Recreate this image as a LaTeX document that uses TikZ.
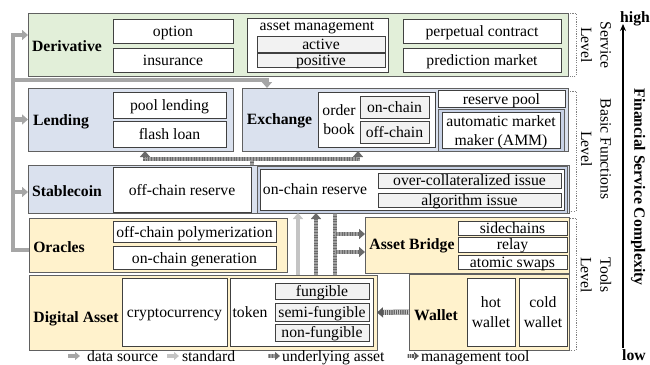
\documentclass[tikz,border=0pt]{standalone}
\usepackage{fontspec}
\setmainfont{Liberation Serif}
\usetikzlibrary{arrows.meta}
\definecolor{cgreen}{HTML}{E2EFD9}
\definecolor{cblue}{HTML}{DAE1EE}
\definecolor{cring}{HTML}{C8D2E6}
\definecolor{cyellow}{HTML}{FFF2CC}
\definecolor{gfill}{HTML}{F2F2F2}
\definecolor{pborder}{HTML}{606060}
\definecolor{bborder}{HTML}{404040}
\definecolor{dsc}{HTML}{A6A6A6}
\definecolor{stc}{HTML}{C4C4C4}
\definecolor{uac}{HTML}{6A6A6A}
\definecolor{uah}{HTML}{9E9E9E}
\definecolor{mtc}{HTML}{5A5A5A}
\definecolor{mth}{HTML}{C8C8C8}
\newcommand{\myfs}{\fontsize{15.7}{19.5}\selectfont}
\newcommand{\bx}[7][]{\node[#1, minimum width={(#4-#2)*1pt}, minimum height={(#5-#3)*1pt}] (#6) at ({(#2+#4)/2},{(#3+#5)/2}) {#7};}
\tikzset{
  panel/.style={draw=pborder, line width=0.9pt},
  ring/.style={draw=pborder, fill=cring, line width=0.6pt},
  tm/.style={text height=14.9pt, text depth=3.45pt},
  ts/.style={text height=12.2pt, text depth=1.6pt},
  wbox/.style={draw=bborder, fill=white, line width=0.8pt, font=\myfs, tm},
  gbox/.style={wbox, fill=gfill},
  swbox/.style={wbox, ts},
  sgbox/.style={gbox, ts},
  lbl/.style={font=\myfs\bfseries, tm},
  txt/.style={font=\myfs, tm},
  txtm/.style={font=\myfs, align=center},
  rtxt/.style={font=\myfs, align=center, rotate=-90},
  brk/.style={draw=gray, line width=0.6pt, dash pattern=on 1.2pt off 1.2pt},
  tip/.style={-{Triangle[width=10pt,length=6pt]}},
  conn/.style={line width=4.5pt, tip},
  ds/.style={conn, draw=dsc},
  st/.style={conn, draw=stc},
  uabase/.style={line width=4.5pt, draw=uac},
  ua/.style={uabase, tip, postaction={draw=uah, -, line width=4.5pt, dash pattern=on 0.6pt off 1pt, shorten >=6pt}},
  ual/.style={uabase, postaction={draw=uah, line width=4.5pt, dash pattern=on 0.6pt off 1pt}},
  mt/.style={line width=5pt, draw=mtc, tip, postaction={draw=mth, -, line width=5pt, dash pattern=on 1pt off 1.2pt, shorten >=6pt}},
  ktip/.style={-{Triangle[width=8pt,length=5pt]}},
  kds/.style={line width=3.5pt, draw=dsc, ktip},
  kst/.style={line width=3.5pt, draw=stc, ktip},
  kua/.style={line width=3.5pt, draw=uac, ktip, postaction={draw=uah, -, line width=3.5pt, dash pattern=on 0.6pt off 1pt, shorten >=5pt}},
  kmt/.style={line width=3.5pt, draw=mtc, ktip, postaction={draw=mth, -, line width=3.5pt, dash pattern=on 1pt off 1.2pt, shorten >=5pt}},
}
\begin{document}
\begin{tikzpicture}[x=1pt,y=-1pt, every node/.style={inner sep=0pt, outer sep=0pt}]
\useasboundingbox (0,0) rectangle (650,364);
% panels
\bx[panel,fill=cgreen]{28}{13}{568}{76}{deriv}{}
\bx[panel,fill=cblue]{28}{88}{233}{151}{lend}{}
\bx[panel,fill=cblue]{242}{88}{568}{151}{exch}{}
\bx[panel,fill=cblue]{28}{165}{569}{213}{stab}{}
\bx[panel,fill=cyellow]{29}{218}{287}{272}{orac}{}
\bx[panel,fill=cyellow]{365}{217}{569}{273}{bridge}{}
\bx[panel,fill=cyellow]{29}{275}{377}{350}{dig}{}
\bx[panel,fill=cyellow]{409}{274}{569}{350}{wal}{}
% labels
\node[lbl] (lderiv) at (67,46) {Derivative};
\node[lbl] (llend) at (61,120) {Lending};
\node[lbl] (lexch) at (279.5,119) {Exchange};
\node[lbl] (lstab) at (67,191) {Stablecoin};
\node[lbl] (lorac) at (59,247) {Oracles};
\node[lbl] (lbridge) at (412,244) {Asset Bridge};
\node[lbl] (ldig) at (76,317) {Digital Asset};
\node[lbl] (lwal) at (436,315) {Wallet};
% derivative
\bx[wbox]{113}{19}{233}{43}{opt}{option}
\bx[wbox]{113}{48}{233}{72}{ins}{insurance}
\bx[wbox]{247}{18}{388}{72}{am}{}
\node[txt] (amt) at (317,25) {asset management};
\bx[sgbox]{257}{36}{385}{52}{act}{active}
\bx[sgbox]{257}{53.5}{385}{67.5}{pos}{positive}
\bx[wbox]{403}{19}{561}{43}{perp}{perpetual contract}
\bx[wbox]{403}{48}{561}{72}{pred}{prediction market}
% lending
\bx[wbox]{113}{92}{226}{118}{pool}{pool lending}
\bx[wbox]{113}{121}{226}{147}{flash}{flash loan}
% exchange
\bx[wbox]{318}{92}{435}{147}{ob}{}
\node[txtm] (obt) at (339,119.5) {order\\book};
\bx[gbox]{360}{96}{429}{118}{onc}{on-chain}
\bx[gbox]{360}{121}{429}{143}{offc}{off-chain}
\bx[swbox]{438}{90}{565}{107.5}{rpool}{reserve pool}
\bx[ring]{438}{109}{564}{151}{ammr}{}
\bx[wbox]{442}{112}{560}{148}{amm}{}
\node[txtm] (ammt) at (501,132) {automatic market\\maker (AMM)};
% stablecoin
\bx[wbox]{113}{167}{251}{212}{offr}{off-chain reserve}
\bx[ring]{257}{166}{567}{213}{onrr}{}
\bx[wbox]{260}{169}{564}{210}{onr}{}
\node[txt] (onrt) at (315,189) {on-chain reserve};
\bx[sgbox]{378}{173}{561}{188}{overc}{over-collateralized issue}
\bx[sgbox]{378}{193}{561}{207}{algo}{algorithm issue}
% oracles
\bx[wbox]{113}{221}{276}{242}{offp}{off-chain polymerization}
\bx[wbox]{113}{246}{276}{269}{ong}{on-chain generation}
% asset bridge
\bx[swbox]{458}{221}{567}{235}{side}{sidechains}
\bx[swbox]{458}{237}{567}{252}{relay}{relay}
\bx[swbox]{458}{255}{567}{269}{atom}{atomic swaps}
% digital asset
\bx[wbox]{122}{278}{227}{346}{crypto}{cryptocurrency}
\bx[wbox]{230}{278}{373}{346}{tok}{}
\node[txt] (tokt) at (250,312) {token};
\bx[sgbox]{275}{283}{369}{299}{fung}{fungible}
\bx[sgbox]{275}{303}{369}{321}{semi}{semi-fungible}
\bx[sgbox]{275}{324}{369}{341}{nonf}{non-fungible}
% wallet
\bx[wbox]{467}{278}{515}{346}{hot}{}
\node[txtm] (hott) at (491,312) {hot\\wallet};
\bx[wbox]{519}{278}{567}{346}{cold}{}
\node[txtm] (coldt) at (543,312) {cold\\wallet};
% level brackets
\draw[brk] (570,13) -- (576,13) -- (576,76) -- (570,76);
\draw[brk] (570,91) -- (576,91) -- (576,211) -- (570,211);
\draw[brk] (570,218) -- (576,218) -- (576,350) -- (570,350);
\node[rtxt] (svl) at (596,45) {Service\\Level};
\node[rtxt] (bfl) at (596,149) {Basic Functions\\Level};
\node[rtxt] (tll) at (596,275) {Tools\\Level};
% complexity axis
\node[lbl] (high) at (635,16.5) {high};
\node[lbl] (low) at (634,354.5) {low};
\coordinate (axb) at (623,348);
\coordinate (axt) at (623,24);
\draw[line width=1.6pt, -{Stealth[length=7pt,width=6pt]}] (axb) -- (axt);
\node[font=\myfs\bfseries, rotate=-90] (fsc) at (638,187) {Financial Service Complexity};
% data source connectors
\coordinate (bus) at (13,0);
\coordinate (dIn) at ([yshift=9.5pt]deriv.west);
\coordinate (sIn) at ([yshift=-3pt]stab.west);
\coordinate (ebus) at (13,80);
\coordinate (eIn) at ([xshift=25pt]exch.north west);
\draw[ds] ([yshift=-5pt]orac.west) -| (bus |- dIn) -- (dIn);
\draw[ds] (bus |- lend.west) -- (lend.west);
\draw[ds] (bus |- sIn) -- (sIn);
\draw[ds] (ebus) -| (eIn);
% underlying asset: stablecoin -> lending, exchange
\coordinate (sj) at (252,159);
\coordinate (lx) at (145,0);
\coordinate (ex) at (358,0);
\draw[ua] (stab.north -| sj) -- (sj) -| (lend.south -| lx);
\draw[ua] (sj) -| (exch.south -| ex);
% digital asset -> stablecoin, asset bridge
\coordinate (v1) at (298,0);
\coordinate (v2) at (316,0);
\coordinate (v3) at (335,0);
\draw[st] (dig.north -| v1) -- (stab.south -| v1);
\draw[ua] (dig.north -| v2) -- (stab.south -| v2);
\draw[ual] (dig.north -| v3) -- (stab.south -| v3);
\coordinate (b1) at (335,234);
\coordinate (b2) at (335,252);
\draw[ua] (b1) -- (bridge.west |- b1);
\draw[ua] (b2) -- (bridge.west |- b2);
% wallet -> token
\draw[mt] (wal.west) -- (dig.east);
% legend
\coordinate (k1a) at (68,356); \coordinate (k1b) at (80,356);
\draw[kds] (k1a) -- (k1b);
\node[txt, anchor=west] (k1t) at (87,355.3) {data source};
\coordinate (k2a) at (167,356); \coordinate (k2b) at (179,356);
\draw[kst] (k2a) -- (k2b);
\node[txt, anchor=west] (k2t) at (182,355.3) {standard};
\coordinate (k3a) at (268,356); \coordinate (k3b) at (280,356);
\draw[kua] (k3a) -- (k3b);
\node[txt, anchor=west] (k3t) at (282,355.3) {underlying asset};
\coordinate (k4a) at (407,356); \coordinate (k4b) at (419,356);
\draw[kmt] (k4a) -- (k4b);
\node[txt, anchor=west] (k4t) at (421,355.3) {management tool};
\end{tikzpicture}
\end{document}
